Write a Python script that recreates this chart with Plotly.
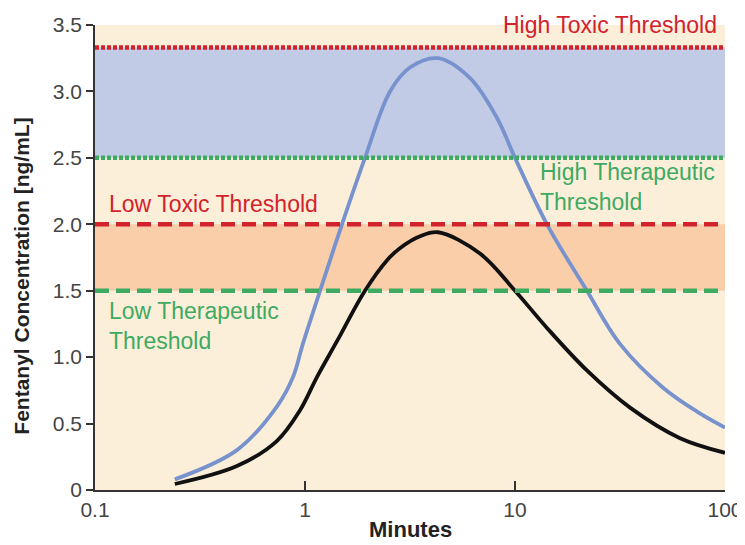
import plotly.graph_objects as go

# Data
blue_minutes = [0.24, 0.474, 0.736, 0.877, 0.977, 1.18, 1.50, 1.93, 2.54, 3.16, 4.30, 6.11, 8.21, 10.0, 14.2, 22.0, 31.6, 50.7, 73.6, 100]
blue_conc = [0.08, 0.30, 0.63, 0.85, 1.10, 1.50, 2.00, 2.50, 3.00, 3.18, 3.25, 3.10, 2.80, 2.50, 2.00, 1.50, 1.10, 0.77, 0.59, 0.47]

black_minutes = [0.24, 0.474, 0.736, 0.947, 1.14, 1.42, 1.93, 2.46, 2.83, 3.53, 4.30, 6.81, 10.0, 14.2, 22.0, 35.3, 61.1, 100]
black_conc = [0.045, 0.18, 0.37, 0.60, 0.85, 1.12, 1.50, 1.73, 1.82, 1.91, 1.94, 1.78, 1.50, 1.22, 0.90, 0.62, 0.39, 0.28]

threshold_names = ["High Toxic Threshold", "High Therapeutic<br>Threshold", "Low Toxic Threshold", "Low Therapeutic<br>Threshold"]
threshold_values = [3.33, 2.5, 2.0, 1.5]

y_tick_vals = [0, 0.5, 1.0, 1.5, 2.0, 2.5, 3.0, 3.5]
y_tick_text = ["0", "0.5", "1.0", "1.5", "2.0", "2.5", "3.0", "3.5"]
x_tick_vals = [0.1, 1, 10, 100]
x_tick_text = ["0.1", "1", "10", "100"]

x_title = "Minutes"
y_title = "Fentanyl Concentration [ng/mL]"

RED = "#D2222C"
GREEN = "#3EAA62"
CREAM = "#FCEFD9"
BLUEBAND = "#C2CBE5"
ORANGEBAND = "#F9CEA9"
FONT = "Liberation Sans, Arial, sans-serif"

fig = go.Figure()

shapes = [
    dict(type="rect", xref="paper", yref="y", x0=0, x1=1, y0=threshold_values[1], y1=threshold_values[0],
         fillcolor=BLUEBAND, line=dict(width=0), layer="below"),
    dict(type="rect", xref="paper", yref="y", x0=0, x1=1, y0=threshold_values[3], y1=threshold_values[2],
         fillcolor=ORANGEBAND, line=dict(width=0), layer="below"),
]
line_styles = [(RED, "4px,2px"), (GREEN, "4px,2px"), (RED, "14px,7px"), (GREEN, "14px,7px")]
for v, (c, d) in zip(threshold_values, line_styles):
    shapes.append(dict(type="line", xref="paper", yref="y", x0=0, x1=1, y0=v, y1=v,
                       line=dict(color=c, width=4.5, dash=d), layer="above"))

fig.add_trace(go.Scatter(x=blue_minutes, y=blue_conc, mode="lines",
                         line=dict(color="#7892CE", width=3.8, shape="spline", smoothing=1.0),
                         showlegend=False, hoverinfo="skip"))
fig.add_trace(go.Scatter(x=black_minutes, y=black_conc, mode="lines",
                         line=dict(color="#111111", width=3.8, shape="spline", smoothing=1.0),
                         showlegend=False, hoverinfo="skip"))

afont = dict(family=FONT, size=23)
annotations = [
    dict(text=threshold_names[0], x=1, xref="paper", y=3.5, yref="y", xanchor="right", yanchor="middle",
         showarrow=False, font=dict(color=RED, **afont), xshift=-6),
    dict(text=threshold_names[1], x=0.703, xref="paper", y=2.28, yref="y", xanchor="left", yanchor="middle",
         showarrow=False, align="left", font=dict(color=GREEN, **afont)),
    dict(text=threshold_names[2], x=0.019, xref="paper", y=2.155, yref="y", xanchor="left", yanchor="middle",
         showarrow=False, font=dict(color=RED, **afont)),
    dict(text=threshold_names[3], x=0.019, xref="paper", y=1.236, yref="y", xanchor="left", yanchor="middle",
         showarrow=False, align="left", font=dict(color=GREEN, **afont)),
    dict(text="<b>" + y_title + "</b>", x=-0.1159, xref="paper", y=1.613, yref="y", textangle=-90,
         xanchor="center", yanchor="middle", showarrow=False, font=dict(family=FONT, size=21, color="#222222")),
    dict(text="<b>" + x_title + "</b>", x=0.5, xref="paper", y=-0.086, yref="paper",
         xanchor="center", yanchor="middle", showarrow=False, font=dict(family=FONT, size=22, color="#222222")),
]

# page body has an 8px default margin; figure sized/margined to compensate
fig.update_layout(
    width=737, height=537,
    margin=dict(l=87, r=20, t=17, b=55),
    paper_bgcolor="white",
    plot_bgcolor=CREAM,
    shapes=shapes,
    annotations=annotations,
    font=dict(family=FONT, color="#333333"),
    xaxis=dict(type="log", range=[-1, 2], tickvals=x_tick_vals, ticktext=x_tick_text,
               ticks="inside", ticklen=9, tickwidth=1.5, tickcolor="#333333",
               showline=True, linecolor="#333333", linewidth=1.5, showgrid=False, zeroline=False,
               tickfont=dict(size=21, color="#444444"), automargin=False),
    yaxis=dict(range=[0, 3.5], tickvals=y_tick_vals, ticktext=y_tick_text,
               ticks="outside", ticklen=7, tickwidth=1.5, tickcolor="#333333",
               showline=True, linecolor="#333333", linewidth=1.5, showgrid=False, zeroline=False,
               tickfont=dict(size=21, color="#444444"), automargin=False),
)

fig.write_html("out.html")
